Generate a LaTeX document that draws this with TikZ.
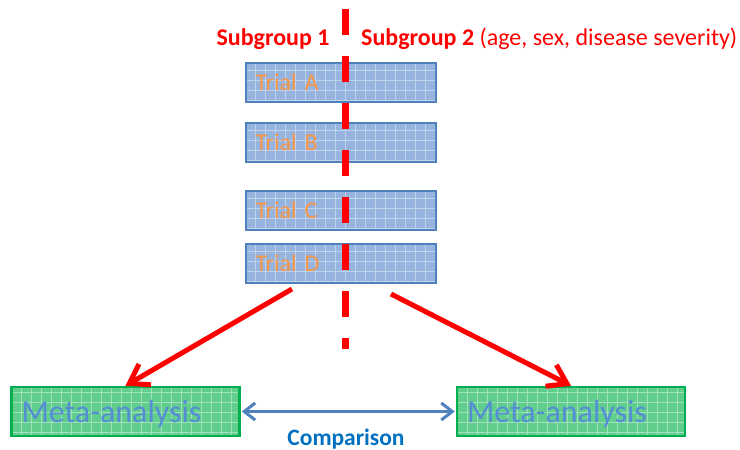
\documentclass[tikz,border=0pt]{standalone}
\usepackage{fontspec}
\setmainfont{Carlito}
\usetikzlibrary{arrows.meta}
\definecolor{trialfill}{RGB}{150,180,222}
\definecolor{trialborder}{RGB}{79,129,189}
\definecolor{trialtext}{RGB}{247,150,70}
\definecolor{metafill}{RGB}{98,206,142}
\definecolor{metaborder}{RGB}{0,176,80}
\definecolor{metatext}{RGB}{85,142,213}
\definecolor{cmpblue}{RGB}{0,112,192}
\definecolor{arrblue}{RGB}{79,129,189}
\tikzset{
  gridfill/.style={path picture={\draw[white, opacity=0.4, line width=0.7pt]
      (path picture bounding box.south west) grid[step=10pt]
      (path picture bounding box.north east);}},
  trialbox/.style={draw=trialborder, line width=2pt, fill=trialfill, gridfill,
      minimum width=190pt, minimum height=39pt, text width=170pt, align=left,
      inner xsep=10pt, inner ysep=0pt, text depth=0pt, text=trialtext,
      font=\fontsize{24}{28}\selectfont},
  metabox/.style={draw=metaborder, line width=2.5pt, fill=metafill, gridfill,
      minimum width=228pt, minimum height=49pt, text width=208pt, align=left,
      inner xsep=10pt, inner ysep=0pt, text depth=0pt, text=metatext,
      font=\fontsize{32}{36}\selectfont},
  redarrow/.style={draw=red, line width=5pt,
      -{Straight Barb[length=18pt, width=24pt, line width=5pt]}},
  cmparrow/.style={draw=arrblue, line width=3pt,
      {Straight Barb[length=11pt, width=17pt, line width=3pt]}-{Straight Barb[length=11pt, width=17pt, line width=3pt]}},
  grplabel/.style={text=red, anchor=base, inner sep=0pt, font=\fontsize{24}{28}\selectfont},
  divider/.style={draw=red, line width=7pt, dash pattern=on 26pt off 21pt}
}
\begin{document}
\begin{tikzpicture}[x=1pt, y=-1pt]
\useasboundingbox (0,0) rectangle (740,450);

% subgroup labels
\node[grplabel] (sg1) at (273,45) {\textbf{Subgroup 1}};
\node[grplabel, anchor=base west] (sg2) at (361,45) {\textbf{Subgroup 2} (age, sex, disease severity)};

% trial boxes
\node[trialbox] (tA) at (340.5,82) {Trial A};
\node[trialbox] (tB) at (340.5,142) {Trial B};
\node[trialbox] (tC) at (340.5,210) {Trial C};
\node[trialbox] (tD) at (340.5,263) {Trial D};

% meta-analysis boxes
\node[metabox] (ml) at (125.5,411.5) {Meta-analysis};
\node[metabox] (mr) at (571,411.5) {Meta-analysis};

% dividing dashed line
\coordinate (dtop) at (345,9);
\coordinate (dbot) at (345,349);
\draw[divider] (dtop) -- (dbot);

% red arrows
\coordinate (sL) at (292,289);
\coordinate (sR) at (391,294);
\draw[redarrow] (sL) -- (ml.north);
\draw[redarrow] (sR) -- (mr.north);

% comparison arrow
\draw[cmparrow, shorten <=1pt, shorten >=1pt] (ml.east) -- (mr.west);
\node[anchor=base, inner sep=0pt, text=cmpblue, font=\fontsize{23.5}{28}\selectfont\bfseries] (cmp) at (346,445) {Comparison};
\end{tikzpicture}
\end{document}
